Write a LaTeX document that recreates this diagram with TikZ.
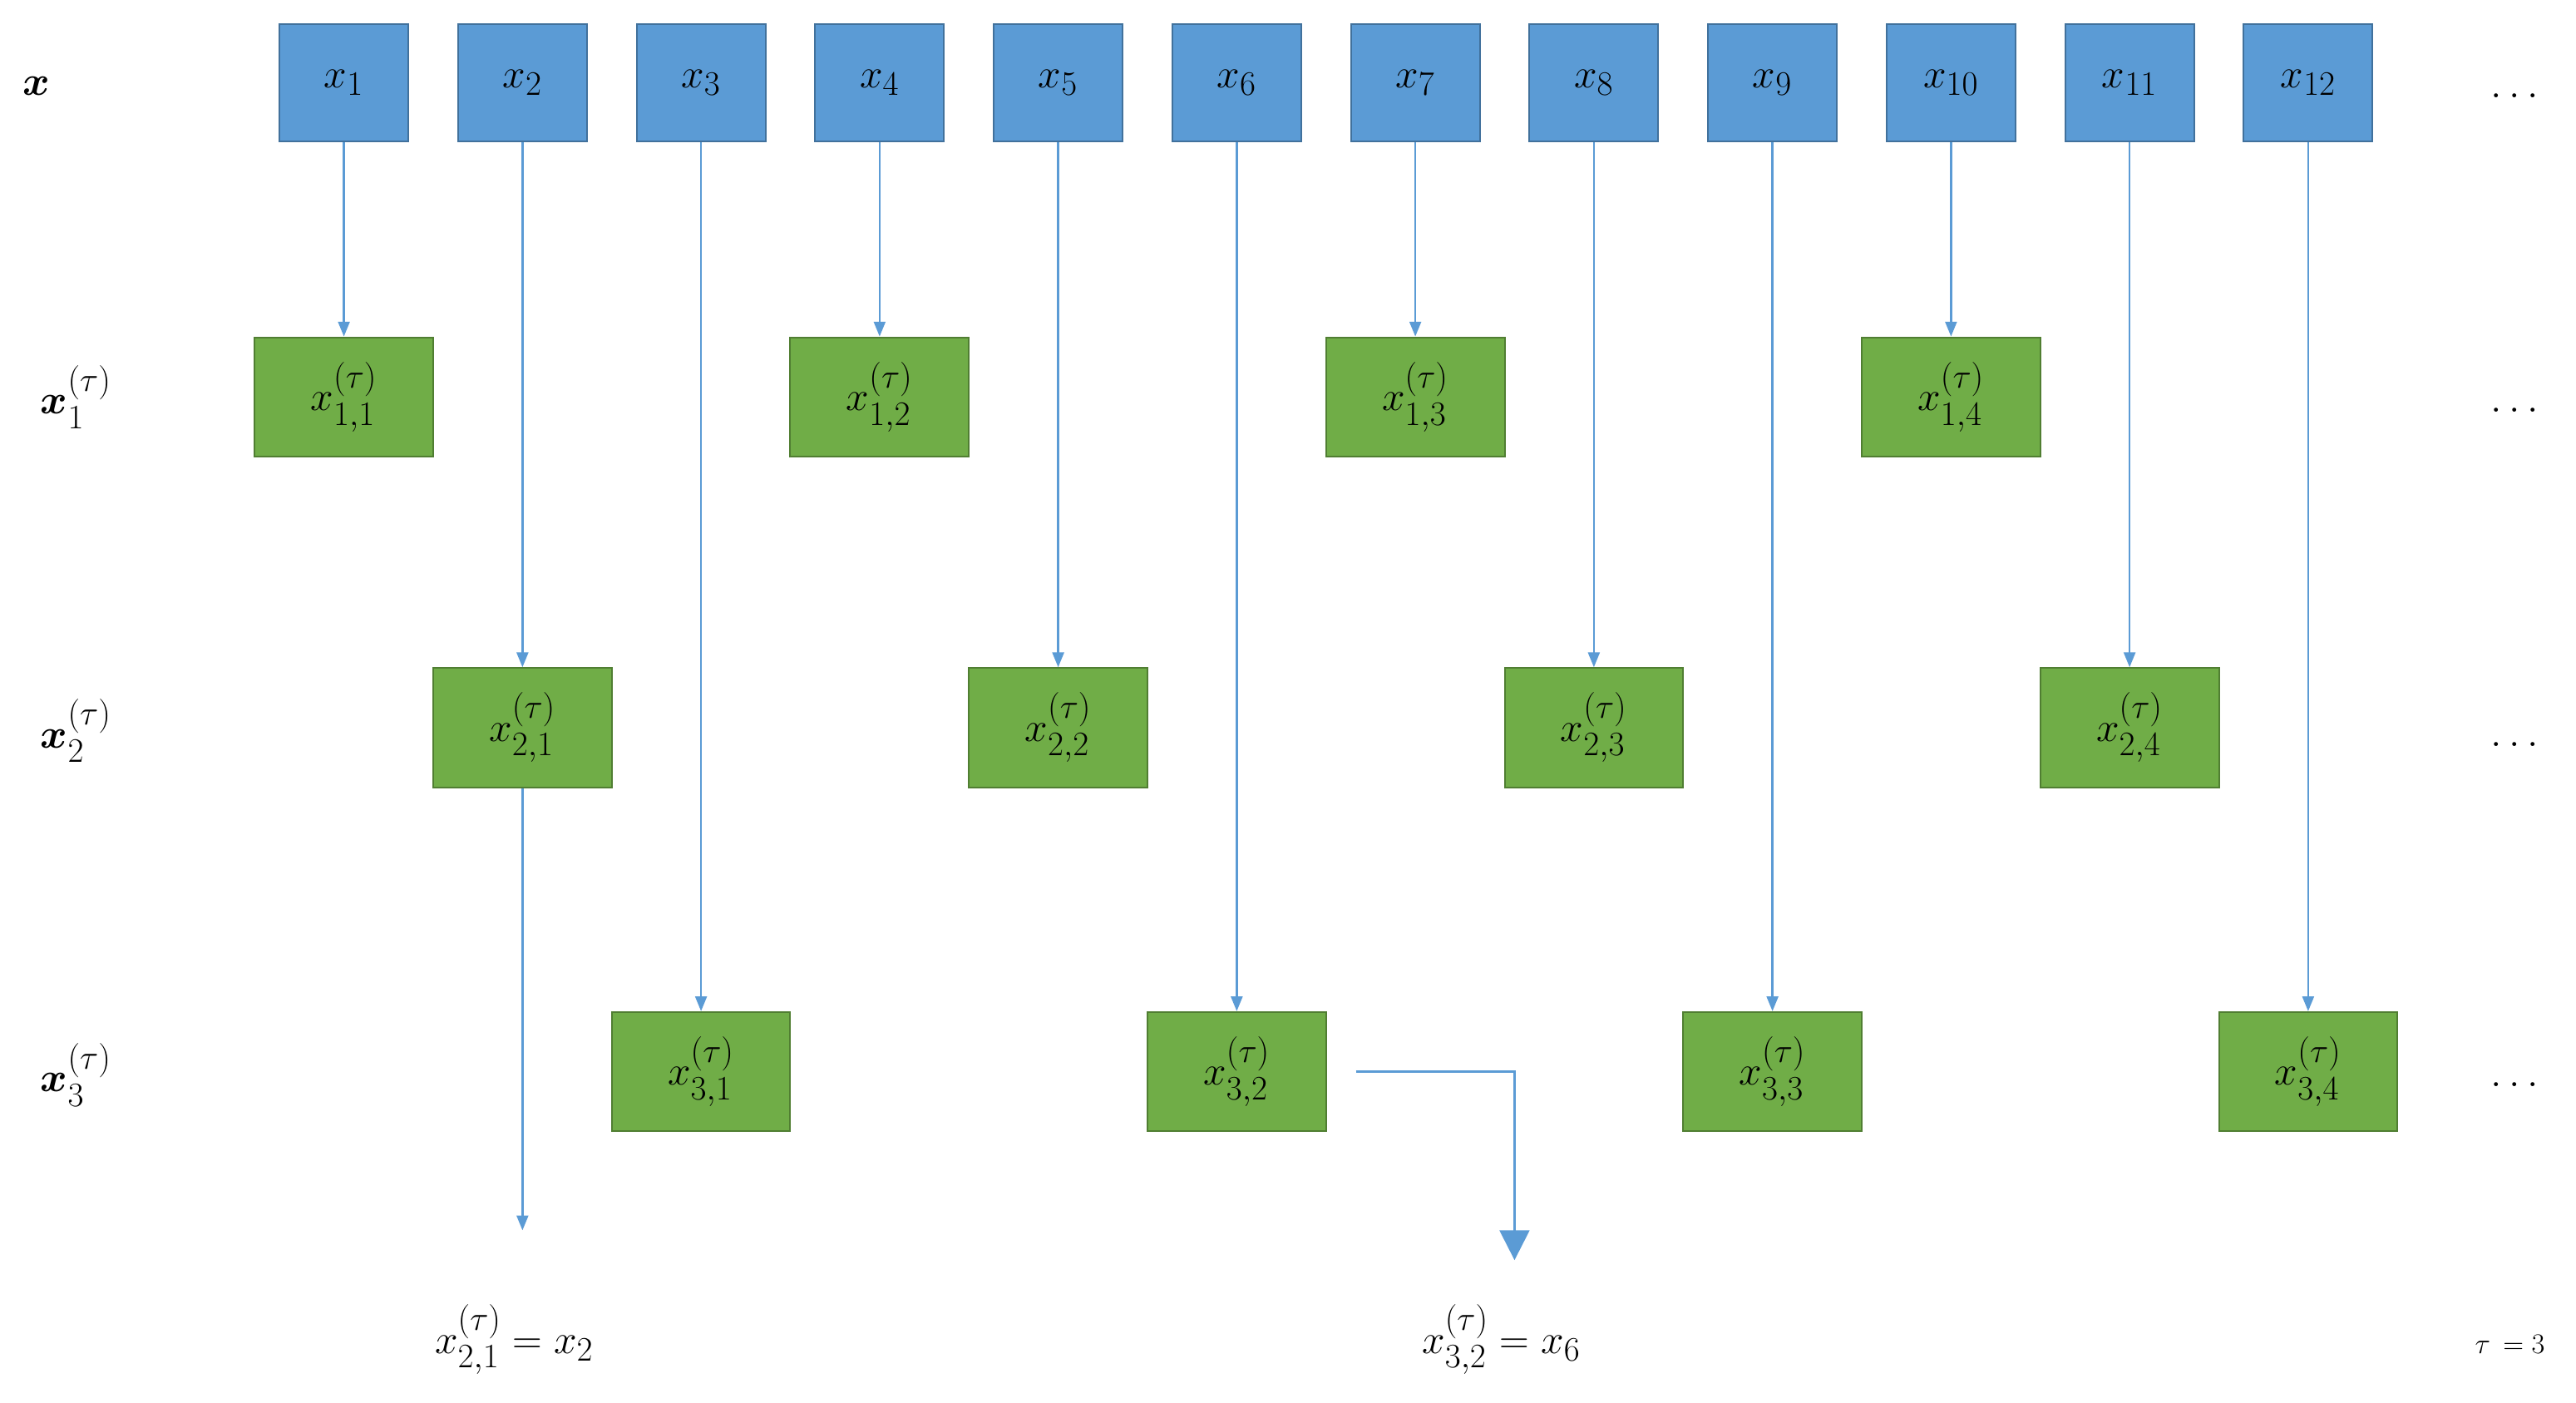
\documentclass[tikz,border=0pt]{standalone}
\usepackage{amsmath,bm}
\usetikzlibrary{arrows.meta}
\definecolor{bfill}{HTML}{5B9BD5}\definecolor{bdraw}{HTML}{41719C}
\definecolor{gfill}{HTML}{70AD47}\definecolor{gdraw}{HTML}{507E32}
\begin{document}
\begin{tikzpicture}[x=1pt,y=-1pt,
 blue/.style={draw=bdraw,fill=bfill,line width=1pt,minimum width=78pt,minimum height=71pt,inner sep=0pt,font=\fontsize{32}{36}\selectfont},
 green/.style={draw=gdraw,fill=gfill,line width=1pt,minimum width=108pt,minimum height=72pt,inner sep=0pt,font=\fontsize{32}{36}\selectfont},
 lab/.style={font=\fontsize{32}{36}\selectfont},
 arr/.style={draw=bfill,line width=1.3pt,-{Triangle[length=9pt,width=7pt]}}]
\useasboundingbox (0,0) rectangle (1558,848);
\foreach \i in {1,...,12}{\node[blue] (b\i) at ({208+108*(\i-1)},50) {$x_{\i}$};}
\foreach \j/\c in {1/1,2/4,3/7,4/10}{\node[green] (ga\j) at ({208+108*(\c-1)},240) {$x^{(\tau)}_{1,\j}$};}
\foreach \j/\c in {1/2,2/5,3/8,4/11}{\node[green] (gb\j) at ({208+108*(\c-1)},440) {$x^{(\tau)}_{2,\j}$};}
\foreach \j/\c in {1/3,2/6,3/9,4/12}{\node[green] (gc\j) at ({208+108*(\c-1)},648) {$x^{(\tau)}_{3,\j}$};}
\foreach \j/\c in {1/1,2/4,3/7,4/10}{\draw[arr] (b\c) -- (ga\j);}
\foreach \j/\c in {1/2,2/5,3/8,4/11}{\draw[arr] (b\c) -- (gb\j);}
\foreach \j/\c in {1/3,2/6,3/9,4/12}{\draw[arr] (b\c) -- (gc\j);}
\coordinate (e1) at (316,744);
\draw[arr] (gb1) -- (e1);
\coordinate (c1) at (820,648); \coordinate (e2) at (916,762);
\draw[draw=bfill,line width=1.3pt,-{Triangle[length=18pt,width=18pt]}] (c1) -| (e2);
\node[lab] (lx) at (22,52) {$\bm{x}$};
\node[lab] (l1) at (46,240) {$\bm{x}^{(\tau)}_1$};
\node[lab] (l2) at (46,442) {$\bm{x}^{(\tau)}_2$};
\node[lab] (l3) at (46,650) {$\bm{x}^{(\tau)}_3$};
\foreach \y/\n in {58/d0,248/d1,450/d2,656/d3}{\node[font=\fontsize{28}{30}\selectfont] (\n) at (1523,\y) {$\dots$};}
\node[lab] (r1) at (311,810) {$x^{(\tau)}_{2,1}=x_2$};
\node[lab] (r2) at (908,810) {$x^{(\tau)}_{3,2}=x_6$};
\node[font=\fontsize{18}{20}\selectfont] (t) at (1518,813) {$\tau\,=3$};
\end{tikzpicture}
\end{document}
